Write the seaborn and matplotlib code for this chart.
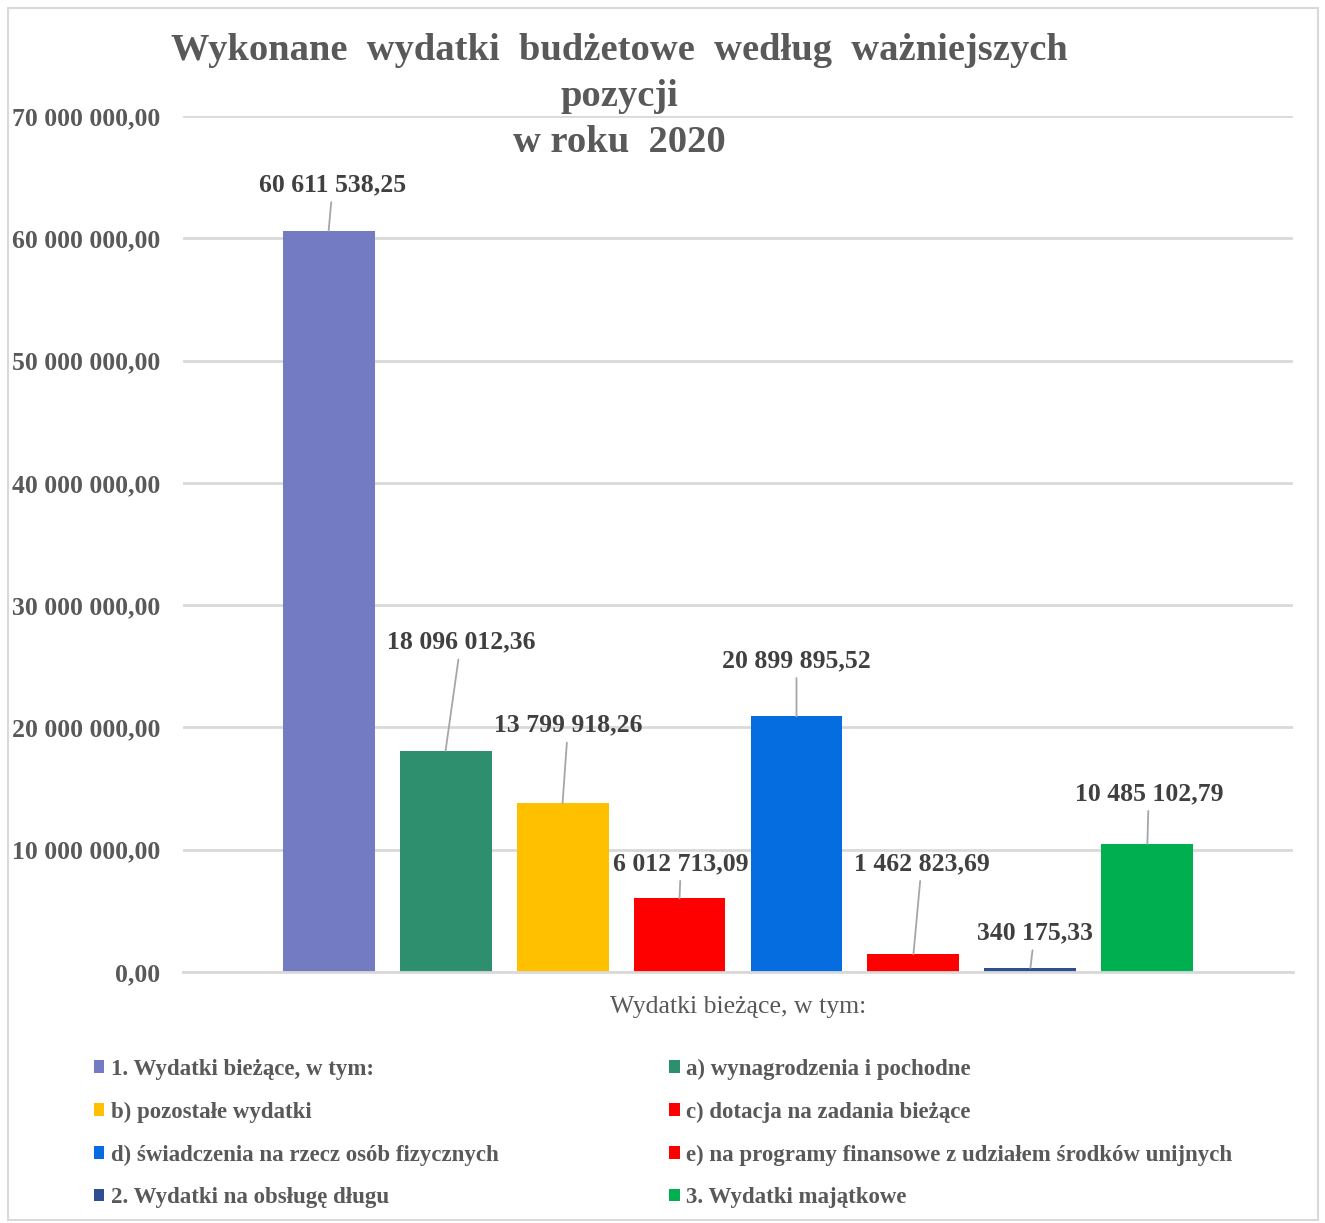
import numpy as np
import pandas as pd
import matplotlib
matplotlib.use("Agg")
import matplotlib.pyplot as plt
from matplotlib.patches import Rectangle
import seaborn as sns

# data
category = "Wydatki bieżące, w tym:"
series = [
    "1. Wydatki bieżące, w tym:",
    "a) wynagrodzenia i pochodne",
    "b) pozostałe wydatki",
    "c) dotacja na zadania bieżące",
    "d) świadczenia na rzecz osób fizycznych",
    "e) na programy finansowe z udziałem środków unijnych",
    "2. Wydatki na obsługę długu",
    "3. Wydatki majątkowe",
]
values = [60611538.25, 18096012.36, 13799918.26, 6012713.09,
          20899895.52, 1462823.69, 340175.33, 10485102.79]
colors = ["#737bc2", "#2e8f6e", "#ffc000", "#ff0000",
          "#066de0", "#ff0000", "#2f4f8f", "#00b050"]
yticks = [0, 10e6, 20e6, 30e6, 40e6, 50e6, 60e6, 70e6]

# label offsets in points (dx, dy) for the leader-line callouts
offsets = [(3, 25), (11, 70), (4, 48), (1, 17), (0, 32), (6, 57), (3, 17), (1, 28)]

TXT = "#595959"
LBL = "#404040"


def pl(v, dec=2):
    s = f"{v:,.{dec}f}"
    return s.replace(",", " ").replace(".", ",")


df = pd.DataFrame({"kat": [category] * len(series), "seria": series, "wartosc": values})

sns.set_theme(style="white")
plt.rcParams["font.family"] = ["Liberation Serif", "DejaVu Serif"]

fig = plt.figure(figsize=(13.25, 12.23), dpi=100)
ax = fig.add_axes([183 / 1325, 1 - 972 / 1223, 1110 / 1325, (972 - 116) / 1223])

sns.barplot(data=df, x="kat", y="wartosc", hue="seria", hue_order=series,
            palette=colors, width=0.843, gap=0.214, dodge=True,
            saturation=1, legend=True, ax=ax, edgecolor="none")

ax.set_xlim(-0.5, 0.5)
ax.set_ylim(0, 70e6)
ax.set_yticks(yticks)
ax.set_yticklabels([pl(t) for t in yticks], fontsize=18.5, color=TXT, fontweight="bold")
ax.tick_params(axis="y", length=0, pad=16.5)
ax.tick_params(axis="x", length=0, pad=17)
ax.set_xticks([0])
ax.set_xticklabels([category], fontsize=18.5, color=TXT)
ax.set_xlabel("")
ax.set_ylabel("")
ax.grid(axis="y", color="#d9d9d9", linewidth=2)
ax.set_axisbelow(True)
for side in ["left", "right", "top"]:
    ax.spines[side].set_visible(False)
ax.spines["bottom"].set_color("#d9d9d9")
ax.spines["bottom"].set_linewidth(2)

# data labels with leader lines
bars = [p for p in ax.patches if p.get_height() > 0]
bars.sort(key=lambda p: p.get_x())
for p, v, (dx, dy) in zip(bars, values, offsets):
    xc = p.get_x() + p.get_width() / 2
    ax.annotate(pl(v), xy=(xc, p.get_height()), xytext=(dx, dy),
                textcoords="offset points", ha="center", va="bottom",
                fontsize=18.5, fontweight="bold", color=LBL,
                arrowprops=dict(arrowstyle="-", color="#a6a6a6", lw=1.3,
                                shrinkA=2, shrinkB=0))

# legend in two columns under the chart
handles, labels = ax.get_legend_handles_labels()
ax.get_legend().remove()
order = [0, 2, 4, 6, 1, 3, 5, 7]
leg = fig.legend([handles[i] for i in order], [labels[i] for i in order],
                 loc="upper left", bbox_to_anchor=(73 / 1325, 1 - 1038 / 1223),
                 ncol=2, frameon=False, handlelength=0.45,
                 handleheight=0.45, handletextpad=0.3, columnspacing=7.45,
                 labelspacing=0.95, labelcolor=TXT,
                 prop={"size": 16.5, "weight": "bold"})

fig.text(619 / 1325, 1 - 33 / 1223,
         "Wykonane  wydatki  budżetowe  według  ważniejszych\npozycji\nw roku  2020",
         ha="center", va="top", fontsize=27.7, fontweight="bold", color=TXT,
         linespacing=1.4)

# outer chart frame
fig.patches.append(Rectangle((8 / 1325, 1 - 1220 / 1223), 1310 / 1325, 1212 / 1223,
                             transform=fig.transFigure, fill=False,
                             edgecolor="#d9d9d9", linewidth=1.5))

fig.savefig("out.png", dpi=100)
